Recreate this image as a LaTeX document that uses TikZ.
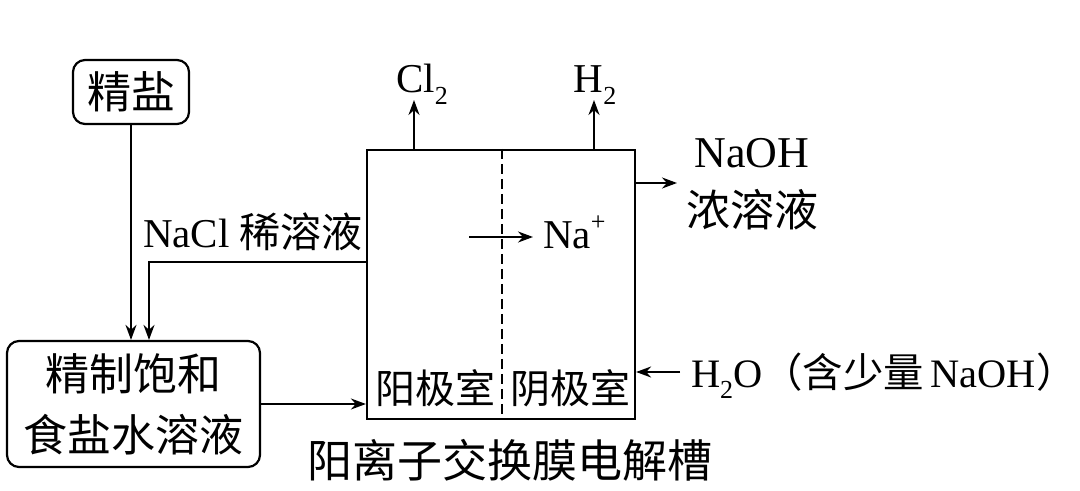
\documentclass[tikz,border=0pt]{standalone}
\usepackage{fontspec}
\setmainfont{Liberation Serif}
\newfontfamily\cjk{Noto Sans CJK SC}
\usetikzlibrary{arrows.meta}
\newcommand\zh[1]{{\cjk #1}}
\newcommand\subn[1]{\raisebox{-0.28em}{\fontsize{13}{13}\selectfont #1}}
\newcommand\supn[1]{\raisebox{0.45em}{\fontsize{13}{13}\selectfont #1}}

\begin{document}
\begin{tikzpicture}[x=0.5pt, y=-0.5pt, >={Stealth[length=7.5pt,width=5.5pt]}, line width=1pt,
  rbox/.style={draw, rounded corners=6pt, line width=1.1pt, align=center, inner sep=0pt},
  lab/.style={font=\fontsize{20.5}{24}\selectfont, inner sep=0pt},
  cn/.style={font=\fontsize{22}{30.5}\cjk, inner sep=0pt}]
\useasboundingbox (0,0) rectangle (1080,491);

% boxes
\node[rbox, cn, minimum width=58pt, minimum height=32pt] (salt) at (131,92) {精盐};
\node[rbox, cn, minimum width=126.5pt, minimum height=63pt] (sat) at (133.5,404) {精制饱和\\食盐水溶液};
\node[draw, line width=1.1pt, minimum width=134pt, minimum height=134.5pt, inner sep=0pt] (cell) at (501,284.5) {};

% membrane
\coordinate (mem) at (502,150);
\draw[dashed, dash pattern=on 5pt off 2.5pt] (cell.north -| mem) -- (cell.south -| mem);

% points on the pipes
\coordinate (clTop) at (414,100);
\coordinate (hTop) at (594,100);
\coordinate (retIn) at (367,262);
\coordinate (retDown) at (149,262);
\coordinate (naOut) at (677,183);
\coordinate (waterIn) at (680,372);
\coordinate (ionA) at (469,237);
\coordinate (ionB) at (533,237);

% arrows
\draw[->] (salt.south) -- (salt.south |- sat.north);
\draw[->] (retIn) -- (retDown) -- (retDown |- sat.north);
\draw[->] (sat.east) -- (sat.east -| cell.west);
\draw[->] (cell.north -| clTop) -- (clTop);
\draw[->] (cell.north -| hTop) -- (hTop);
\draw[->] (naOut -| cell.east) -- (naOut);
\draw[->] (waterIn) -- (waterIn -| cell.east);
\draw[->] (ionA) -- (ionB);

% labels
\node[lab, anchor=base] (cl) at (422,93) {Cl\subn{2}};
\node[lab, anchor=base] (h) at (595,93) {H\subn{2}};
\node[lab, anchor=base west] (nacl) at (142,248) {NaCl \zh{稀溶液}};
\node[lab, anchor=base west] (na) at (542,249) {Na\supn{+}};
\node[lab, font=\fontsize{22}{24}\selectfont, anchor=base] (naoh) at (752,168) {NaOH};
\node[lab, font=\fontsize{22}{24}\selectfont, anchor=base] (conc) at (752,227) {\zh{浓溶液}};
\node[lab, font=\fontsize{20.2}{24}\selectfont, anchor=base west] (water) at (690,387) {H\subn{2}O\zh{（含少量}\,NaOH\zh{）}};
\node[cn, font=\fontsize{20}{24}\cjk, anchor=base] (anode) at (435,403) {阳极室};
\node[cn, font=\fontsize{20}{24}\cjk, anchor=base] (cathode) at (570,403) {阴极室};
\node[cn, font=\fontsize{22.5}{24}\cjk, anchor=base] (title) at (510,477) {阳离子交换膜电解槽};
\end{tikzpicture}
\end{document}
